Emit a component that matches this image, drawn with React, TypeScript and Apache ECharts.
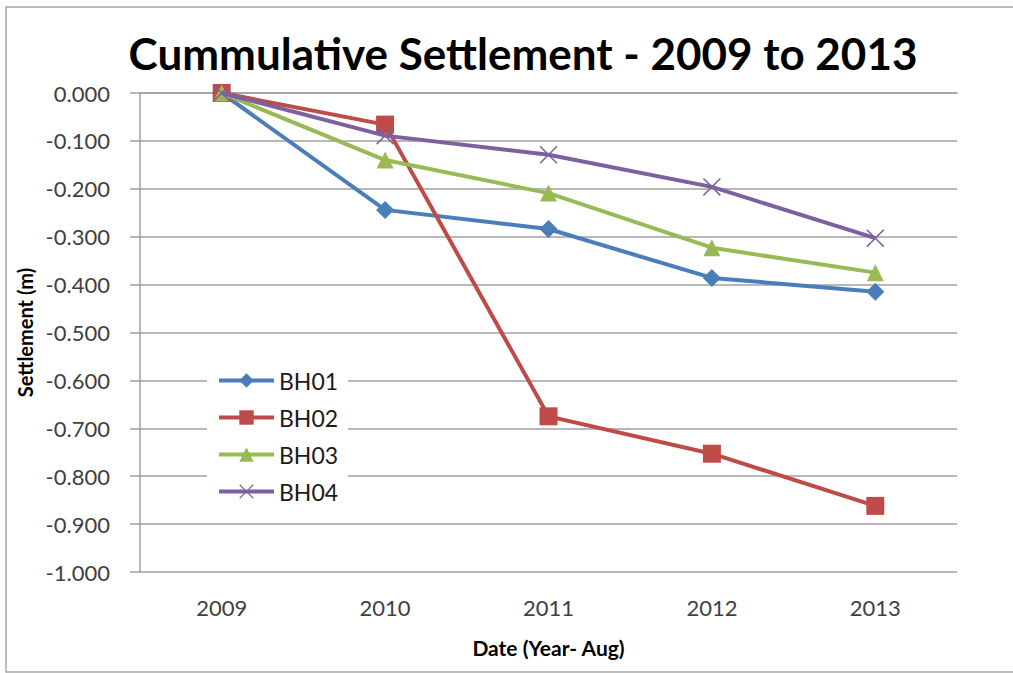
import React, { useEffect, useRef } from "react";
import * as echarts from "echarts";

// Survey years (August readings)
const years = ["2009", "2010", "2011", "2012", "2013"];

// Cumulative settlement per borehole, metres
const bh01 = [0, -0.244, -0.284, -0.386, -0.415];
const bh02 = [0, -0.066, -0.675, -0.753, -0.862];
const bh03 = [0, -0.14, -0.209, -0.323, -0.375];
const bh04 = [0, -0.089, -0.129, -0.196, -0.303];

const seriesNames = ["BH01", "BH02", "BH03", "BH04"];
const seriesColors = ["#4a7ebb", "#be4b48", "#98b954", "#7d60a0"];

const titleText = "Cummulative Settlement - 2009 to 2013";
const yAxisTitle = "Settlement (m)";
const xAxisTitle = "Date (Year- Aug)";

// Thin "x" marker drawn as a filled outline
const crossSymbol =
  "path://M0,1.2 L1.2,0 L10,8.8 L18.8,0 L20,1.2 L11.2,10 L20,18.8 L18.8,20 L10,11.2 L1.2,20 L0,18.8 L8.8,10 Z";

const FONT = "Lato, 'Open Sans', sans-serif";

export default function App() {
  const ref = useRef<HTMLDivElement>(null);

  useEffect(() => {
    if (!ref.current) return;
    const chart = echarts.init(ref.current, null, { renderer: "svg" });

    const datasets = [bh01, bh02, bh03, bh04];
    const symbols = ["diamond", "rect", "triangle", crossSymbol];
    const symbolSizes = [18, 18, 17, 18];

    chart.setOption({
      animation: false,
      backgroundColor: "#ffffff",
      textStyle: { fontFamily: FONT },
      grid: { left: 140, right: 56, top: 93, bottom: 101, containLabel: false },
      graphic: [
        {
          type: "rect",
          shape: { x: 6, y: 7, width: 1030, height: 665 },
          style: { fill: "none", stroke: "#a8a8a8", lineWidth: 1.5 },
          silent: true,
          z: -1,
        },
        {
          type: "text",
          x: 523,
          y: 53,
          style: {
            text: titleText,
            font: `bold 44px ${FONT}`,
            fill: "#000000",
            textAlign: "center",
            textVerticalAlign: "middle",
          },
        },
      ],
      legend: {
        orient: "vertical",
        left: 207,
        top: 361,
        padding: [8, 10, 8, 10],
        backgroundColor: "#ffffff",
        itemWidth: 55,
        itemHeight: 18,
        itemGap: 14,
        data: seriesNames,
        lineStyle: { width: 4 },
        textStyle: {
          fontFamily: FONT,
          fontSize: 23,
          lineHeight: 22,
          color: "#1a1a1a",
        },
      },
      xAxis: [
        {
          type: "category",
          position: "top",
          data: years,
          boundaryGap: true,
          axisLine: { lineStyle: { color: "#a0a0a0", width: 1.5 } },
          axisTick: { inside: true, length: 6, lineStyle: { color: "#a0a0a0", width: 1.5 } },
          axisLabel: { show: false },
          splitLine: { show: false },
        },
        {
          type: "category",
          position: "bottom",
          data: years,
          boundaryGap: true,
          axisLine: { show: false },
          axisTick: { show: false },
          axisLabel: { margin: 24, fontSize: 22, color: "#404040", fontFamily: FONT },
          name: xAxisTitle,
          nameLocation: "middle",
          nameGap: 65,
          nameTextStyle: { fontSize: 21, fontWeight: "bold", color: "#000000", fontFamily: FONT },
        },
      ],
      yAxis: {
        type: "value",
        min: -1,
        max: 0,
        interval: 0.1,
        axisLine: { show: true, lineStyle: { color: "#a0a0a0", width: 1.5 } },
        axisTick: { show: true, length: 10, lineStyle: { color: "#a0a0a0", width: 1.5 } },
        axisLabel: {
          margin: 30,
          fontSize: 22,
          color: "#404040",
          fontFamily: FONT,
          formatter: (v: number) => v.toFixed(3),
        },
        splitLine: { lineStyle: { color: "#a0a0a0", width: 1.5 } },
        name: yAxisTitle,
        nameLocation: "middle",
        nameGap: 98,
        nameTextStyle: { fontSize: 20, fontWeight: "bold", color: "#000000", fontFamily: FONT },
      },
      series: datasets.map((d, i) => ({
        name: seriesNames[i],
        type: "line",
        xAxisIndex: 0,
        data: d,
        symbol: symbols[i],
        symbolSize: symbolSizes[i],
        showAllSymbol: true,
        lineStyle: { color: seriesColors[i], width: 4 },
        itemStyle: { color: seriesColors[i] },
        z: 2 + i,
      })),
    });

    return () => chart.dispose();
  }, []);

  return (
    <div
      ref={ref}
      style={{ position: "fixed", left: 0, top: 0, width: 1013, height: 673 }}
    />
  );
}
